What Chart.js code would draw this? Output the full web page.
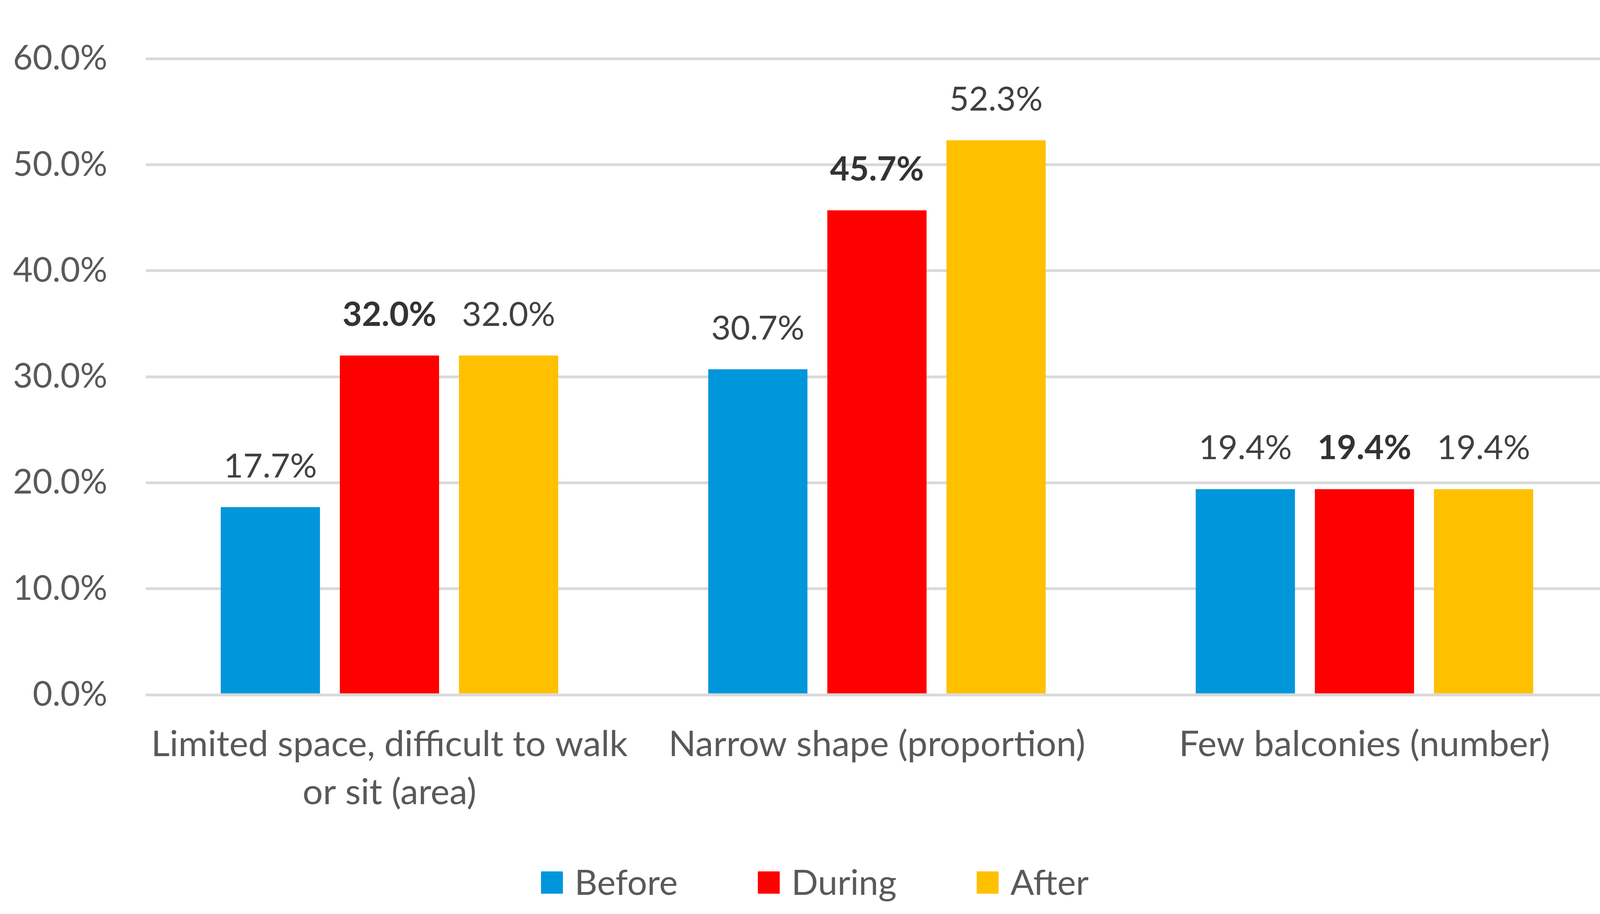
<!DOCTYPE html>
<html>
<head>
<meta charset="utf-8">
<script src="https://cdn.jsdelivr.net/npm/chart.js@4"></script>
<style>
  html, body { margin: 0; padding: 0; background: #ffffff; overflow: hidden; }
  #wrap { width: 4172px; height: 2339px; }
</style>
</head>
<body>
<div id="wrap"><canvas id="chart"></canvas></div>
<script>
const categories = [
  ["Limited space, difficult to walk", "or sit (area)"],
  "Narrow shape (proportion)",
  "Few balconies (number)",
]
const seriesNames = ["Before", "During", "After"]
const before = [17.7, 30.7, 19.4]
const during = [32.0, 45.7, 19.4]
const after = [32.0, 52.3, 19.4]

const colors = ["#0096DB", "#FF0000", "#FFC000"]
const FONT = "Lato, 'Open Sans', sans-serif"

// value labels above the bars, the middle series in bold
const valueLabels = {
  id: "valueLabels",
  afterDatasetsDraw(chart) {
    const ctx = chart.ctx
    ctx.save()
    ctx.textAlign = "center"
    ctx.textBaseline = "middle"
    chart.data.datasets.forEach((ds, i) => {
      const meta = chart.getDatasetMeta(i)
      const bold = i === 1
      ctx.font = (bold ? "bold " : "") + "86px " + FONT
      ctx.fillStyle = bold ? "#333333" : "#404040"
      meta.data.forEach((bar, j) => {
        ctx.fillText(ds.data[j].toFixed(1) + "%", bar.x, bar.y - 104)
      })
    })
    ctx.restore()
  }
}

// legend row under the axis labels, like the excel one
const bottomLegend = {
  id: "bottomLegend",
  afterDraw(chart) {
    const ctx = chart.ctx
    const box = 56
    const gap = 30
    const spacing = 205
    const y = 2258
    ctx.save()
    ctx.font = "90px " + FONT
    ctx.textBaseline = "middle"
    ctx.textAlign = "left"
    const items = chart.data.datasets.map(ds => ({
      text: ds.label,
      color: ds.backgroundColor,
      w: box + gap + ctx.measureText(ds.label).width,
    }))
    const total = items.reduce((a, it) => a + it.w, 0) + spacing * (items.length - 1)
    let x = chart.width / 2 - total / 2
    items.forEach(it => {
      ctx.fillStyle = it.color
      ctx.fillRect(x, y - box / 2, box, box + 1)
      ctx.fillStyle = "#595959"
      ctx.fillText(it.text, x + box + gap, y + 3)
      x += it.w + spacing
    })
    ctx.restore()
  }
}

const ctx = document.getElementById("chart")

new Chart(ctx, {
  type: "bar",
  data: {
    labels: categories,
    datasets: seriesNames.map((name, i) => ({
      label: name,
      data: [before, during, after][i],
      backgroundColor: colors[i],
    })),
  },
  options: {
    responsive: true,
    maintainAspectRatio: false,
    devicePixelRatio: 1,
    animation: false,
    datasets: {
      bar: { categoryPercentage: 0.733, barPercentage: 0.833 },
    },
    layout: {
      padding: { top: 83, right: 55, bottom: 231, left: 0 }
    },
    scales: {
      x: {
        grid: { display: false, drawTicks: false },
        border: { display: false },
        ticks: {
          color: "#595959",
          font: { family: FONT, size: 92, lineHeight: 1.337 },
          padding: 66,
          maxRotation: 0,
          autoSkip: false,
        },
        afterFit: (s) => { s.height = 330 },
      },
      y: {
        min: 0,
        max: 60,
        grid: { color: "#D9D9D9", lineWidth: 7, drawTicks: false },
        border: { display: false },
        ticks: {
          stepSize: 10,
          color: "#595959",
          font: { family: FONT, size: 87 },
          padding: 98,
          callback: (v) => v.toFixed(1) + "%",
        },
        afterFit: (s) => { s.width = 373 },
      },
    },
    plugins: {
      tooltip: { enabled: false },
      legend: { display: false },
    },
  },
  plugins: [valueLabels, bottomLegend],
})
</script>
</body>
</html>
